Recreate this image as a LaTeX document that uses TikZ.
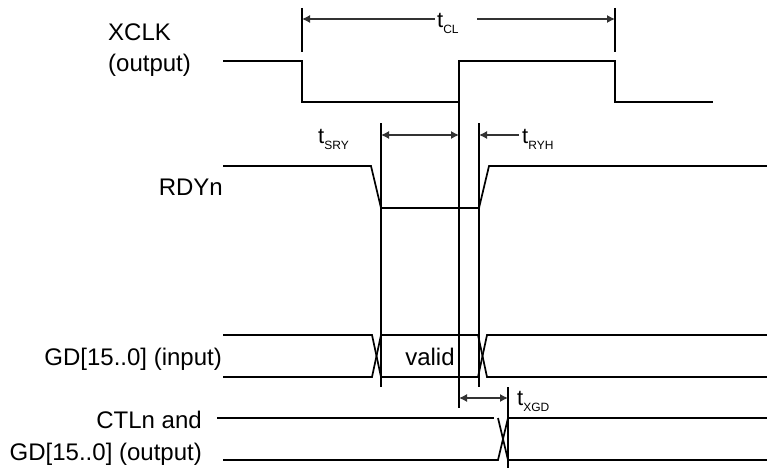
\documentclass[tikz,border=0pt]{standalone}
\usepackage{fontspec}
\setmainfont{Liberation Sans}
\usetikzlibrary{arrows.meta}
\newcommand{\tlab}[1]{{\fontsize{22}{22}\selectfont t}\raisebox{-6pt}{\fontsize{12}{12}\selectfont #1}}
\tikzset{
  sig/.style={line width=1.7pt, line join=miter},
  edge/.style={line width=1.4pt},
  dim/.style={line width=1.2pt, draw=black!80},
  tip/.style={-{Latex[length=8pt,width=8pt]}},
  tips/.style={{Latex[length=8pt,width=8pt]}-{Latex[length=8pt,width=8pt]}},
  lbl/.style={inner sep=0pt, font=\fontsize{24}{31}\selectfont},
  tl/.style={inner sep=0pt, anchor=base west},
}
\begin{document}
\begin{tikzpicture}[x=1pt,y=-1pt]
\useasboundingbox (0,0) rectangle (767,468);
% coordinates
\coordinate (xa) at (302,61);
\coordinate (xb) at (459,61);
\coordinate (xc) at (615,61);
\coordinate (sA) at (381,123);
\coordinate (sB) at (381,387);
\coordinate (hA) at (479,123);
\coordinate (hB) at (479,387);
\coordinate (vA) at (459,102);
\coordinate (vB) at (459,408);
\coordinate (gA) at (508,387);
\coordinate (gB) at (508,468);
% labels
\node[lbl, align=left, anchor=base west] (lx) at (108,72) {XCLK\\(output)};
\node[lbl, anchor=base east] (lr) at (223,195) {RDYn};
\node[lbl, anchor=base east] (lg) at (222,365) {GD[15..0] (input)};
\node[lbl, anchor=base east] (lc1) at (202,428) {CTLn and};
\node[lbl, anchor=base east] (lc2) at (202,460) {GD[15..0] (output)};
\node[lbl, anchor=base] (lv) at (430,365) {valid};
% XCLK
\draw[sig] (223,61) -- (xa) -- (302,102) -- (vA) -- (xb) -- (xc) -- (615,102) -- (713,102);
% RDYn
\draw[sig] (223,166) -- (371,166) -- (381,208) -- (479,208) -- (489,166) -- (767,166);
% GD input
\draw[sig] (223,335) -- (372,335) -- (381,377) -- (478,377) -- (487,335) -- (767,335);
\draw[sig] (223,377) -- (372,377) -- (381,335) -- (478,335) -- (487,377) -- (767,377);
% CTLn / GD output
\draw[sig] (217,418) -- (494,418);
\draw[sig] (498,418) -- (508,460) -- (767,460);
\draw[sig] (223,460) -- (498,460) -- (508,418) -- (767,418);
% vertical timing lines
\draw[edge] (302,8) -- (302,52);
\draw[edge] (615,8) -- (615,52);
\draw[edge] (sA) -- (sB);
\draw[edge] (hA) -- (hB);
\draw[edge] (vA) -- (vB);
\draw[edge] (gA) -- (gB);
% t_CL
\node[tl] (tcl) at (437,28) {\tlab{CL}};
\draw[dim, tip] (435,19) -- (302,19);
\draw[dim, tip] (477,19) -- (615,19);
% t_SRY
\node[tl] (tsry) at (318,143) {\tlab{SRY}};
\draw[dim, tips] (381,135) -- (459,135);
% t_RYH
\node[tl] (tryh) at (522,143) {\tlab{RYH}};
\draw[dim, tip] (519,135) -- (479,135);
% t_XGD
\node[tl] (txgd) at (517,405) {\tlab{XGD}};
\draw[dim, tips] (459,398) -- (508,398);
\end{tikzpicture}
\end{document}
